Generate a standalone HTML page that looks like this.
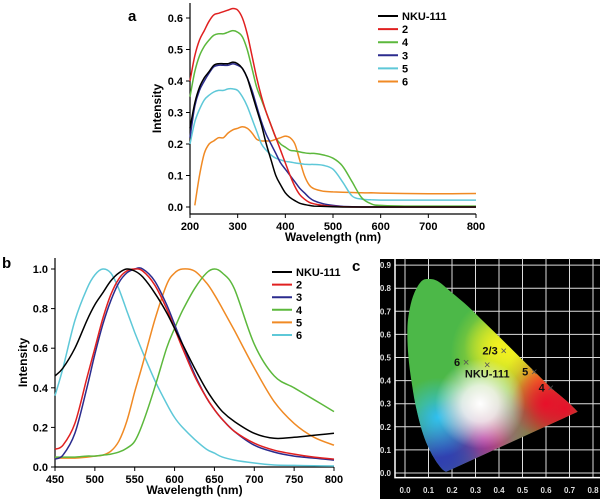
<!DOCTYPE html>
<html><head><meta charset="utf-8"><style>
body{margin:0;background:#fff;width:600px;height:499px;overflow:hidden}
svg{display:block;font-family:"Liberation Sans",Arial,sans-serif}
</style></head><body>
<svg id="s" width="600" height="499">
<defs>
<clipPath id="horse"><path id="hp" d=""/></clipPath>
<radialGradient id="gW" cx="0.5" cy="0.5" r="0.5"><stop offset="0" stop-color="#fff"/><stop offset="0.4" stop-color="#fff" stop-opacity="0.8"/><stop offset="1" stop-color="#fff" stop-opacity="0"/></radialGradient>
<radialGradient id="gR" cx="0.5" cy="0.5" r="0.5"><stop offset="0" stop-color="#e8102a"/><stop offset="1" stop-color="#e8102a" stop-opacity="0"/></radialGradient>
<radialGradient id="gY" cx="0.5" cy="0.5" r="0.5"><stop offset="0" stop-color="#f2f020"/><stop offset="1" stop-color="#f2f020" stop-opacity="0"/></radialGradient>
<radialGradient id="gB" cx="0.5" cy="0.5" r="0.5"><stop offset="0" stop-color="#3040b0"/><stop offset="1" stop-color="#3040b0" stop-opacity="0"/></radialGradient>
<radialGradient id="gC" cx="0.5" cy="0.5" r="0.5"><stop offset="0" stop-color="#30c0f0"/><stop offset="1" stop-color="#30c0f0" stop-opacity="0"/></radialGradient>
<radialGradient id="gM" cx="0.5" cy="0.5" r="0.5"><stop offset="0" stop-color="#e02090"/><stop offset="1" stop-color="#e02090" stop-opacity="0"/></radialGradient>
<radialGradient id="gO" cx="0.5" cy="0.5" r="0.5"><stop offset="0" stop-color="#f8a020"/><stop offset="1" stop-color="#f8a020" stop-opacity="0"/></radialGradient>
</defs>
<g id="ga"></g><g id="gb"></g><g id="gc"></g>
</svg>
<script>
var NS="http://www.w3.org/2000/svg";
function mk(p,t,a,txt){var e=document.createElementNS(NS,t);for(var k in a)e.setAttribute(k,a[k]);if(txt!=null)e.textContent=txt;p.appendChild(e);return e;}
var colors={black:"#000000",red:"#e02020",blue:"#2b2b8e",green:"#5cb83c",cyan:"#5ec8d8",orange:"#f08a24"};

// ---- Chart a data ----
var aWave=[200,210,220,230,240,250,260,270,280,290,300,310,320,330,340,350,360,370,380,390,400,410,420,430,440,450,460,480,500,520,540,560,580,600,650,700,750,800];
var aNKU=[0.25,0.33,0.38,0.41,0.43,0.45,0.455,0.455,0.455,0.46,0.455,0.44,0.41,0.36,0.31,0.26,0.2,0.15,0.1,0.07,0.045,0.03,0.02,0.012,0.008,0.005,0.003,0.002,0.001,0,0,0,0,0,0,0,0,0];
var a2=[0.4,0.48,0.53,0.56,0.59,0.61,0.615,0.62,0.625,0.63,0.625,0.6,0.55,0.48,0.41,0.35,0.3,0.26,0.22,0.18,0.14,0.1,0.065,0.04,0.025,0.015,0.01,0.005,0.002,0.001,0,0,0,0,0,0,0,0];
var a4=[0.35,0.43,0.48,0.51,0.53,0.545,0.55,0.55,0.555,0.56,0.555,0.54,0.5,0.44,0.38,0.34,0.3,0.26,0.22,0.2,0.19,0.18,0.178,0.175,0.172,0.17,0.17,0.165,0.155,0.13,0.08,0.03,0.01,0.005,0.003,0.003,0.003,0.003];
var a3=[0.22,0.32,0.37,0.4,0.425,0.445,0.45,0.45,0.45,0.455,0.45,0.44,0.41,0.37,0.32,0.27,0.23,0.2,0.17,0.14,0.12,0.1,0.08,0.06,0.045,0.03,0.02,0.01,0.005,0.002,0.001,0,0,0,0,0,0,0];
var a5=[0.2,0.27,0.31,0.34,0.355,0.365,0.37,0.37,0.375,0.375,0.37,0.35,0.32,0.28,0.24,0.2,0.18,0.165,0.155,0.15,0.145,0.143,0.14,0.138,0.136,0.135,0.135,0.132,0.12,0.08,0.035,0.025,0.023,0.022,0.022,0.022,0.022,0.022];
var a6=[null,0.005,0.1,0.17,0.2,0.21,0.22,0.22,0.235,0.245,0.25,0.255,0.25,0.235,0.215,0.21,0.21,0.21,0.215,0.22,0.225,0.22,0.2,0.15,0.1,0.07,0.058,0.05,0.048,0.047,0.046,0.045,0.045,0.044,0.043,0.042,0.042,0.043];
var aXTicks=[200,300,400,500,600,700,800];
var aYTicks=[0.0,0.1,0.2,0.3,0.4,0.5,0.6];
var aLegend=[["NKU-111","black",aNKU],["2","red",a2],["4","green",a4],["3","blue",a3],["5","cyan",a5],["6","orange",a6]];

// ---- Chart b data ----
var bWave=[450,460,475,490,500,510,520,530,540,550,560,575,590,600,610,625,640,650,660,675,700,725,750,775,800];
var bNKU=[0.46,0.5,0.6,0.74,0.82,0.88,0.94,0.98,1.0,0.99,0.96,0.88,0.78,0.7,0.62,0.5,0.39,0.33,0.28,0.23,0.17,0.145,0.15,0.16,0.17];
var b2=[0.09,0.11,0.22,0.45,0.6,0.75,0.87,0.95,0.99,1.0,0.99,0.92,0.8,0.7,0.6,0.46,0.35,0.29,0.24,0.18,0.12,0.085,0.065,0.05,0.04];
var b3=[0.04,0.06,0.17,0.4,0.57,0.72,0.84,0.93,0.98,1.0,1.0,0.94,0.82,0.72,0.62,0.47,0.35,0.29,0.24,0.18,0.11,0.075,0.055,0.045,0.035];
var b4=[0.05,0.05,0.05,0.055,0.055,0.06,0.065,0.075,0.095,0.13,0.22,0.4,0.6,0.7,0.79,0.9,0.98,1.0,0.98,0.9,0.62,0.46,0.4,0.34,0.28];
var b5=[0.045,0.045,0.045,0.05,0.055,0.06,0.08,0.13,0.23,0.38,0.52,0.74,0.92,0.98,1.0,0.99,0.93,0.87,0.8,0.69,0.5,0.33,0.22,0.15,0.11];
var b6=[0.36,0.5,0.74,0.9,0.97,1.0,0.98,0.9,0.79,0.68,0.58,0.44,0.32,0.25,0.2,0.14,0.09,0.07,0.05,0.035,0.02,0.01,0.008,0.006,0.005];
var bXTicks=[450,500,550,600,650,700,750,800];
var bYTicks=[0.0,0.2,0.4,0.6,0.8,1.0];
var bLegend=[["NKU-111","black",bNKU],["2","red",b2],["3","blue",b3],["4","green",b4],["5","orange",b5],["6","cyan",b6]];

// ---- Chart c data ----
var cTicksX=[0.0,0.1,0.2,0.3,0.4,0.5,0.6,0.7,0.8];
var cTicksY=[0.0,0.1,0.2,0.3,0.4,0.5,0.6,0.7,0.8,0.9];
var locusX=[0.175,0.16,0.14,0.11,0.08,0.05,0.03,0.015,0.01,0.02,0.04,0.07,0.1,0.14,0.2,0.27,0.34,0.41,0.48,0.55,0.62,0.69,0.735];
var locusY=[0.005,0.015,0.04,0.09,0.16,0.27,0.38,0.5,0.62,0.71,0.78,0.83,0.84,0.83,0.78,0.72,0.65,0.58,0.51,0.44,0.37,0.31,0.265];
var markLabels=["2/3","6","NKU-111","5","4"];
var markX=[0.42,0.26,0.35,0.55,0.62];
var markY=[0.53,0.48,0.47,0.44,0.37];

function smoothPath(pts){
  var d="M"+pts[0][0].toFixed(1)+","+pts[0][1].toFixed(1);
  for(var i=0;i<pts.length-1;i++){
    var p0=pts[i-1]||pts[i],p1=pts[i],p2=pts[i+1],p3=pts[i+2]||p2;
    var c1=[p1[0]+(p2[0]-p0[0])/6,p1[1]+(p2[1]-p0[1])/6],c2=[p2[0]-(p3[0]-p1[0])/6,p2[1]-(p3[1]-p1[1])/6];
    d+="C"+c1[0].toFixed(1)+","+c1[1].toFixed(1)+" "+c2[0].toFixed(1)+","+c2[1].toFixed(1)+" "+p2[0].toFixed(1)+","+p2[1].toFixed(1);
  }
  return d;
}

function lineChart(g,o){
  var X=function(v){return o.x0+(v-o.xmin)/(o.xmax-o.xmin)*(o.x1-o.x0);};
  var Y=function(v){return o.y0-(v-o.ymin)/(o.ymax-o.ymin)*(o.y0-o.y1);};
  var ax=mk(g,"path",{d:"M"+o.x0+","+o.top+"V"+o.axY+"H"+o.x1,stroke:"#000","stroke-width":1.2,fill:"none"});
  
  
  o.xt.forEach(function(t){
    var x=X(t);mk(g,"line",{x1:x,x2:x,y1:o.axY,y2:o.axY+4,stroke:"#000"});
    var tl=mk(g,"text",{x:x,y:o.axY+16,"text-anchor":"middle","font-size":11,"font-weight":"bold"},String(t));
    
    
  });
  o.yt.forEach(function(t){
    var y=Y(t);mk(g,"line",{x1:o.x0-4,x2:o.x0,y1:y,y2:y,stroke:"#000"});
    var tl=mk(g,"text",{x:o.x0-7,y:y+4,"text-anchor":"end","font-size":11,"font-weight":"bold"},t.toFixed(1));
    
    
  });
  var xt=mk(g,"text",{x:(o.x0+o.x1)/2,y:o.axY+27,"text-anchor":"middle","font-size":12,"font-weight":"bold"},"Wavelength (nm)");
  
  
  var yt=mk(g,"text",{x:0,y:0,transform:"translate("+o.ytX+","+((o.top+o.axY)/2)+") rotate(-90)","text-anchor":"middle","font-size":12,"font-weight":"bold"},"Intensity");
  
  
  var pl=mk(g,"text",{x:o.lblX,y:o.lblY,"font-size":15,"font-weight":"bold"},o.lbl);
  
  
  for(var s=o.series.length-1;s>=0;s--){
    var se=o.series[s],pts=[];
    for(var i=0;i<o.wave.length;i++){if(se[2][i]!=null)pts.push([X(o.wave[i]),Y(se[2][i])]);}
    var p=mk(g,"path",{d:smoothPath(pts),fill:"none",stroke:colors[se[1]],"stroke-width":1.5});
    
    
  }
  o.series.forEach(function(se,i){
    var y=o.legY+i*o.legDy;
    var lg=mk(g,"g",{});
    
    
    mk(lg,"line",{x1:o.legX,x2:o.legX+20,y1:y,y2:y,stroke:colors[se[1]],"stroke-width":2});
    mk(lg,"text",{x:o.legX+24,y:y+4,"font-size":11,"font-weight":"bold"},se[0]);
  });
}

lineChart(document.getElementById("ga"),{x0:190,x1:476,xmin:200,xmax:800,y0:207,y1:18,ymin:0,ymax:0.6,top:3,axY:214,xt:aXTicks,yt:aYTicks,wave:aWave,series:aLegend,ytX:161,lbl:"a",lblX:128,lblY:21,legX:378,legY:16,legDy:13.1});
lineChart(document.getElementById("gb"),{x0:55,x1:334,xmin:450,xmax:800,y0:467,y1:269,ymin:0,ymax:1.0,top:258,axY:467,xt:bXTicks,yt:bYTicks,wave:bWave,series:bLegend,ytX:27,lbl:"b",lblX:2,lblY:268,legX:272,legY:272,legDy:12.6});

// ---- Chart c ----
(function(){
  var g=document.getElementById("gc");
  var X=function(v){return 405+v*235;},Y=function(v){return 473-v*231;};
  var bg=mk(g,"rect",{x:380,y:259,width:220,height:240,fill:"#000"});
  
  
  var pl=mk(g,"text",{x:352,y:271,"font-size":15,"font-weight":"bold"},"c");
  
  
  cTicksX.forEach(function(t){var x=X(t);mk(g,"line",{x1:x,x2:x,y1:Y(0.93),y2:Y(-0.02),stroke:"#ddd","stroke-width":1});
    var tl=mk(g,"text",{x:x,y:493,"text-anchor":"middle","font-size":8,fill:"#ddd","font-weight":"bold"},t.toFixed(1));
    
    });
  cTicksY.forEach(function(t){var y=Y(t);mk(g,"line",{x1:395,x2:X(0.85),y1:y,y2:y,stroke:"#ddd","stroke-width":1});
    var tl=mk(g,"text",{x:391,y:y+3,"text-anchor":"end","font-size":8,fill:"#ddd","font-weight":"bold"},t.toFixed(1));
    
    });
  mk(g,"path",{d:"M395,"+Y(0.93)+"V"+Y(-0.02)+"H"+X(0.85),stroke:"#fff","stroke-width":1.5,fill:"none"});
  var pts=locusX.map(function(x,i){return [X(x),Y(locusY[i])];});
  var d=smoothPath(pts)+"Z";
  document.getElementById("hp").setAttribute("d",d);
  var hg=mk(g,"g",{"clip-path":"url(#horse)"});
  
  
  mk(hg,"rect",{x:380,y:258,width:220,height:241,fill:"#4cb848"});
  function blob(id,cx,cy,r){mk(hg,"circle",{cx:X(cx),cy:Y(cy),r:r,fill:"url(#"+id+")"});}
  blob("gY",0.45,0.52,60);blob("gY",0.4,0.55,35);blob("gO",0.57,0.4,35);blob("gR",0.68,0.28,60);blob("gR",0.6,0.3,35);
  blob("gM",0.33,0.15,55);blob("gB",0.18,0.08,55);blob("gB",0.15,0.05,40);blob("gC",0.14,0.24,40);blob("gW",0.32,0.3,45);
  markLabels.forEach(function(l,i){
    var x=X(markX[i]),y=Y(markY[i]);
    var m=mk(g,"text",{x:x,y:y+4,"text-anchor":"middle","font-size":11,fill:"#555"},"×");
    
    
    var lx=x-6,ly=y+4,anc="end";
    if(l==="NKU-111"){lx=x;ly=y+13;anc="middle";}
    var t=mk(g,"text",{x:lx,y:ly,"text-anchor":anc,"font-size":11,"font-weight":"bold",fill:"#111"},l);
    
    
  });
})();
</script>
</body></html>
